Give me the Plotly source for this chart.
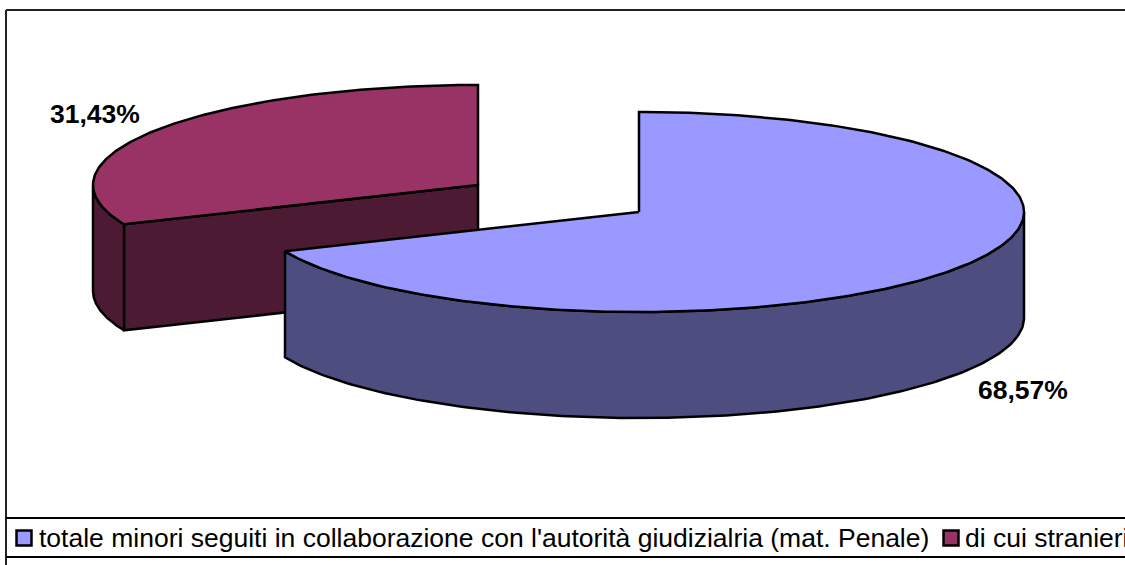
import numpy as np
import plotly.graph_objects as go

categories = ["totale minori seguiti in collaborazione con l'autorità giudizialria (mat. Penale)", "di cui stranieri"]
shares = [68.57, 31.43]
labels = ["68,57%", "31,43%"]
top_colors = ["#9999FF", "#993366"]
side_colors = ["#4D4D80", "#4D1A33"]

W, H = 1125, 565
RX, RY, DEPTH = 385, 100, 106
CENTERS = [(639, 212), (478, 185)]
LW = 2.5


def rim(c, a0, a1, dy=0, n=160):
    """Clockwise angle from 12 o'clock, degrees."""
    t = np.radians(np.linspace(a0, a1, n))
    return c[0] + RX * np.sin(t), c[1] - RY * np.cos(t) + dy


def poly(x, y, color):
    return go.Scatter(x=list(x), y=list(y), mode="lines", fill="toself", fillcolor=color,
                      line=dict(color="black", width=LW), hoverinfo="skip", showlegend=False)


cut = shares[0] / sum(shares) * 360
fig = go.Figure()

# second slice (exploded, behind)
c = CENTERS[1]
x0, y0 = rim(c, cut, cut, n=1)
fig.add_trace(poly([x0[0], c[0], c[0], x0[0], x0[0]],
                   [y0[0], c[1], c[1] + DEPTH, y0[0] + DEPTH, y0[0]], side_colors[1]))
xa, ya = rim(c, cut, 270)
xb, yb = rim(c, 270, cut, dy=DEPTH)
fig.add_trace(poly(np.r_[xa, xb, xa[0]], np.r_[ya, yb, ya[0]], side_colors[1]))
xt, yt = rim(c, cut, 360)
fig.add_trace(poly(np.r_[c[0], xt, c[0]], np.r_[c[1], yt, c[1]], top_colors[1]))

# first slice
c = CENTERS[0]
xa, ya = rim(c, 90, cut)
xb, yb = rim(c, cut, 90, dy=DEPTH)
fig.add_trace(poly(np.r_[xa, xb, xa[0]], np.r_[ya, yb, ya[0]], side_colors[0]))
xt, yt = rim(c, 0, cut, n=300)
fig.add_trace(poly(np.r_[c[0], xt, c[0]], np.r_[c[1], yt, c[1]], top_colors[0]))

# legend swatches
swatch_x = [24, 951]
text_x = [37, 963]
for i in range(2):
    fig.add_trace(go.Scatter(x=[swatch_x[i]], y=[538], mode="markers", name=categories[i], showlegend=False,
                             hoverinfo="skip",
                             marker=dict(symbol="square", size=15, color=top_colors[i],
                                         line=dict(color="black", width=2.5))))

ann = [
    dict(x=1023, y=390, text="<b>%s</b>" % labels[0], font=dict(size=26.5, family="Liberation Sans", color="black"),
         xanchor="center", yanchor="middle", showarrow=False),
    dict(x=95, y=114, text="<b>%s</b>" % labels[1], font=dict(size=26.5, family="Liberation Sans", color="black"),
         xanchor="center", yanchor="middle", showarrow=False),
]
for i in range(2):
    ann.append(dict(x=text_x[i], y=538, text=categories[i], xanchor="left", yanchor="middle", showarrow=False,
                    font=dict(size=26.5, family="Liberation Sans", color="black")))

line = dict(color="black", width=2)
shapes = [
    dict(type="line", x0=6, x1=6, y0=10, y1=565, line=dict(color="#222222", width=2)),
    dict(type="line", x0=6, x1=W, y0=10, y1=10, line=dict(color="#222222", width=2)),
    dict(type="line", x0=6, x1=W, y0=518, y1=518, line=line),
    dict(type="line", x0=6, x1=W, y0=557, y1=557, line=line),
]

fig.update_layout(
    width=W, height=H, margin=dict(l=0, r=0, t=0, b=0), autosize=False,
    paper_bgcolor="white", plot_bgcolor="white", showlegend=False,
    xaxis=dict(range=[0, W], visible=False, fixedrange=True),
    yaxis=dict(range=[H, 0], visible=False, fixedrange=True),
    annotations=ann, shapes=shapes,
)
fig.write_html("out.html", config=dict(displayModeBar=False),
               post_script="document.body.style.margin='0';document.body.style.overflow='hidden';")
